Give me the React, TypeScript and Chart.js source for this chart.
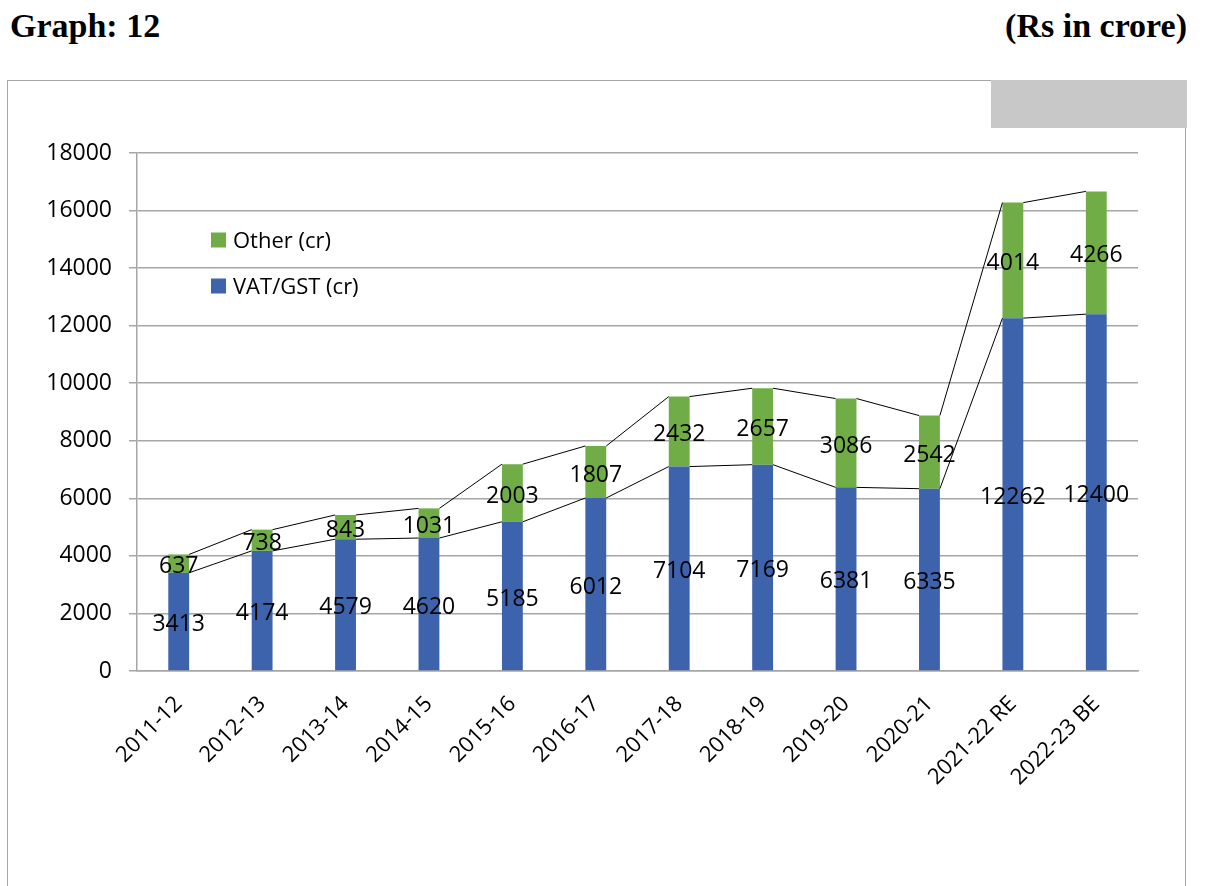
import React, { useEffect, useRef } from "react";
import { Chart, registerables } from "chart.js";

Chart.register(...registerables);

const categories = [
  "2011-12", "2012-13", "2013-14", "2014-15", "2015-16", "2016-17",
  "2017-18", "2018-19", "2019-20", "2020-21", "2021-22 RE", "2022-23 BE",
];
const vatGst = [3413, 4174, 4579, 4620, 5185, 6012, 7104, 7169, 6381, 6335, 12262, 12400];
const other = [637, 738, 843, 1031, 2003, 1807, 2432, 2657, 3086, 2542, 4014, 4266];
const seriesNames = ["VAT/GST (cr)", "Other (cr)"];
const yMin = 0;
const yMax = 18000;
const yStep = 2000;

const BLUE = "#3D63AC";
const GREEN = "#70AD47";
const FONT = "'Open Sans', 'Noto Sans', sans-serif";

const seriesLinesPlugin = {
  id: "seriesLines",
  afterDatasetsDraw(chart: any) {
    const ctx = chart.ctx;
    ctx.save();
    ctx.strokeStyle = "#000";
    ctx.lineWidth = 1;
    chart.data.datasets.forEach((_: any, d: number) => {
      const meta = chart.getDatasetMeta(d);
      const els = meta.data;
      for (let j = 0; j < els.length - 1; j++) {
        const a = els[j];
        const b = els[j + 1];
        ctx.beginPath();
        ctx.moveTo(a.x + a.width / 2, a.y);
        ctx.lineTo(b.x - b.width / 2, b.y);
        ctx.stroke();
      }
    });
    // data labels
    ctx.fillStyle = "#000";
    ctx.font = `23px ${FONT}`;
    ctx.textAlign = "center";
    ctx.textBaseline = "middle";
    chart.data.datasets.forEach((ds: any, d: number) => {
      const meta = chart.getDatasetMeta(d);
      meta.data.forEach((el: any, j: number) => {
        const c = el.getCenterPoint();
        ctx.fillText(String(ds.data[j]), c.x, c.y + 3);
      });
    });
    ctx.restore();
  },
  afterDraw(chart: any) {
    const ctx = chart.ctx;
    const area = chart.chartArea;
    ctx.save();
    ctx.font = `22px ${FONT}`;
    ctx.textAlign = "left";
    ctx.textBaseline = "middle";
    const ds = chart.data.datasets;
    const order = [1, 0];
    order.forEach((d, i) => {
      const cy = area.top + 87 + i * 46;
      const sx = area.left + 74;
      ctx.fillStyle = ds[d].backgroundColor;
      ctx.fillRect(sx, cy - 7.5, 15, 15);
      ctx.fillStyle = "#000";
      ctx.fillText(ds[d].label, sx + 22, cy + 2);
    });
    ctx.restore();
  },
};

export default function App() {
  const ref = useRef<HTMLCanvasElement | null>(null);

  useEffect(() => {
    if (!ref.current) return;
    const chart = new Chart(ref.current, {
      type: "bar",
      data: {
        labels: categories,
        datasets: [
          {
            label: seriesNames[0],
            data: vatGst,
            backgroundColor: BLUE,
            categoryPercentage: 1,
            barPercentage: 0.25,
          },
          {
            label: seriesNames[1],
            data: other,
            backgroundColor: GREEN,
            categoryPercentage: 1,
            barPercentage: 0.25,
          },
        ],
      },
      options: {
        responsive: false,
        animation: false,
        events: [],
        layout: { padding: { top: 153, right: 68, bottom: 0, left: 0 } },
        plugins: {
          legend: { display: false },
          tooltip: { enabled: false },
          title: { display: false },
        },
        scales: {
          x: {
            stacked: true,
            grid: { display: false, drawTicks: false },
            border: { display: true, color: "#A6A6A6", width: 1.5 },
            ticks: {
              color: "#000",
              font: { family: FONT, size: 22 },
              minRotation: 45,
              maxRotation: 45,
              padding: 20,
              autoSkip: false,
            },
            afterFit(scale: any) {
              scale.height = 215;
            },
          },
          y: {
            stacked: true,
            min: yMin,
            max: yMax,
            grid: {
              color: "#A6A6A6",
              lineWidth: 1.5,
              drawTicks: true,
              tickLength: 8,
            },
            border: { display: true, color: "#A6A6A6", width: 1.5 },
            ticks: {
              stepSize: yStep,
              color: "#000",
              font: { family: FONT, size: 23 },
              padding: 17,
              callback: (v: any) => String(v),
            },
            afterFit(scale: any) {
              scale.width = 137;
            },
          },
        },
      },
      plugins: [seriesLinesPlugin],
    });
    return () => chart.destroy();
  }, []);

  return (
    <div
      style={{
        position: "absolute",
        left: 0,
        top: 0,
        width: 1206,
        height: 886,
        overflow: "hidden",
        background: "#fff",
      }}
    >
      <div
        style={{
          position: "absolute",
          left: 10,
          top: 7,
          font: "bold 34px 'Liberation Serif', 'Times New Roman', serif",
          color: "#000",
          whiteSpace: "nowrap",
        }}
      >
        Graph: 12
      </div>
      <div
        style={{
          position: "absolute",
          right: 19,
          top: 7,
          font: "bold 34px 'Liberation Serif', 'Times New Roman', serif",
          color: "#000",
          whiteSpace: "nowrap",
        }}
      >
        (Rs in crore)
      </div>
      <div
        style={{
          position: "absolute",
          left: 7,
          top: 80,
          width: 1179,
          height: 830,
          border: "1.5px solid #A6A6A6",
          boxSizing: "border-box",
        }}
      />
      <div
        style={{
          position: "absolute",
          left: 991,
          top: 80,
          width: 196,
          height: 48,
          background: "#C8C8C8",
        }}
      />
      <canvas
        ref={ref}
        width={1206}
        height={886}
        style={{ position: "absolute", left: 0, top: 0, width: 1206, height: 886 }}
      />
    </div>
  );
}
